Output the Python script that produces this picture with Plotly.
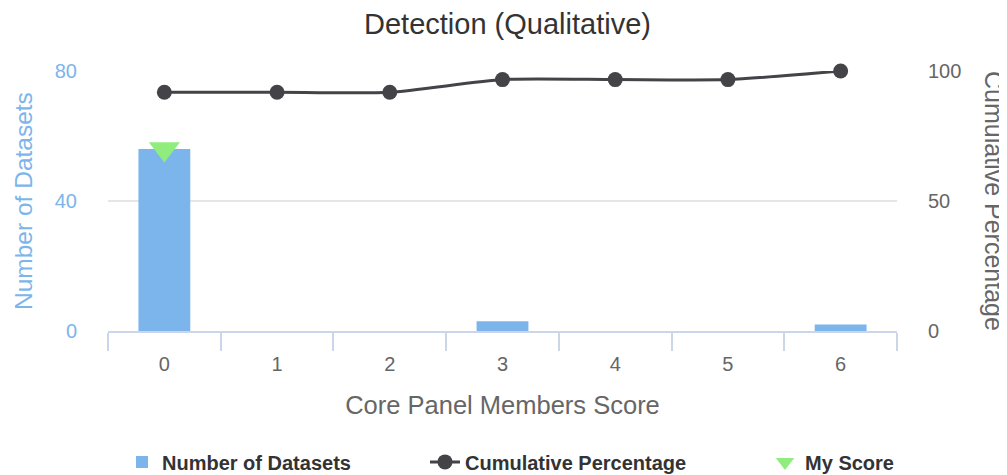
import plotly.graph_objects as go

categories = ["0", "1", "2", "3", "4", "5", "6"]
num_datasets = [56, 0, 0, 3, 0, 0, 2]
cumulative_pct = [91.8, 91.8, 91.8, 96.7, 96.7, 96.7, 100]
my_score_x = ["0"]
my_score_y = [56]

FONT = "Liberation Sans, Arial, sans-serif"
BLUE = "#7cb5ec"
DARK = "#434348"
GREEN = "#90ed7d"
AXIS = "#ccd6eb"

W, H = 999, 467  # page body margin of 8px puts the figure at (8, 8)

fig = go.Figure()
fig.add_trace(go.Bar(
    x=categories, y=num_datasets, name="Number of Datasets",
    marker=dict(color=BLUE, line=dict(width=0)), width=0.46, yaxis="y",
    legend="legend",
))
fig.add_trace(go.Scatter(
    x=categories, y=cumulative_pct, name="Cumulative Percentage",
    mode="lines+markers", yaxis="y2", cliponaxis=False,
    line=dict(color=DARK, width=3, shape="spline", smoothing=0.6),
    marker=dict(color=DARK, size=15),
    legend="legend2",
))
fig.add_trace(go.Scatter(
    x=my_score_x, y=my_score_y, name="My Score", mode="markers", yaxis="y",
    cliponaxis=False,
    marker=dict(symbol="triangle-down", color=GREEN, size=27),
    legend="legend3",
))

legend_font = dict(size=20, color="#333333", family=FONT, weight="bold")


def legend_at(xpos):
    return dict(
        orientation="h", x=xpos, xanchor="left", xref="container",
        y=0.028, yanchor="middle", yref="container",
        font=legend_font, bgcolor="rgba(0,0,0,0)",
    )


fig.update_layout(
    width=W, height=H,
    margin=dict(l=100, r=110, t=63, b=144, autoexpand=False),
    paper_bgcolor="white", plot_bgcolor="white",
    font=dict(family=FONT, color="#666666"),
    title=dict(text="Detection (Qualitative)", x=0.5, xanchor="center",
               y=0.9657, yanchor="middle",
               font=dict(size=29, color="#333333", family=FONT)),
    xaxis=dict(
        type="category", categoryorder="array", categoryarray=categories,
        range=[-0.5, 6.5], tickson="boundaries", ticks="outside", ticklen=18,
        tickcolor=AXIS, tickwidth=1.5, showline=True, linecolor=AXIS, linewidth=1.5,
        showgrid=False, tickfont=dict(size=20, color="#666666"), ticklabelstandoff=14,
        title=dict(text="Core Panel Members Score", font=dict(size=25.5, color="#666666"),
                   standoff=22),
    ),
    yaxis=dict(
        range=[0, 80], tickvals=[0, 40, 80], showgrid=True, gridcolor="#e6e6e6",
        gridwidth=1.5, zeroline=False, showline=False, ticks="",
        tickfont=dict(size=20, color=BLUE), ticklabelstandoff=30,
    ),
    yaxis2=dict(
        range=[0, 100], tickvals=[0, 50, 100], overlaying="y", side="right",
        showgrid=False, zeroline=False, showline=False, ticks="",
        tickfont=dict(size=20, color="#666666"), ticklabelstandoff=30,
    ),
    legend=legend_at(0.1141),
    legend2=legend_at(0.4174),
    legend3=legend_at(0.7578),
    annotations=[
        dict(text="Number of Datasets", textangle=-90, xref="paper", yref="paper",
             x=0.0, xshift=-85, y=0.5, xanchor="center", yanchor="middle",
             showarrow=False, font=dict(size=24.5, color=BLUE, family=FONT)),
        dict(text="Cumulative Percentage", textangle=90, xref="paper", yref="paper",
             x=1.0, xshift=97, y=0.5, xanchor="center", yanchor="middle",
             showarrow=False, font=dict(size=25, color="#666666", family=FONT)),
    ],
    showlegend=True,
)

fig.write_html("out.html")
